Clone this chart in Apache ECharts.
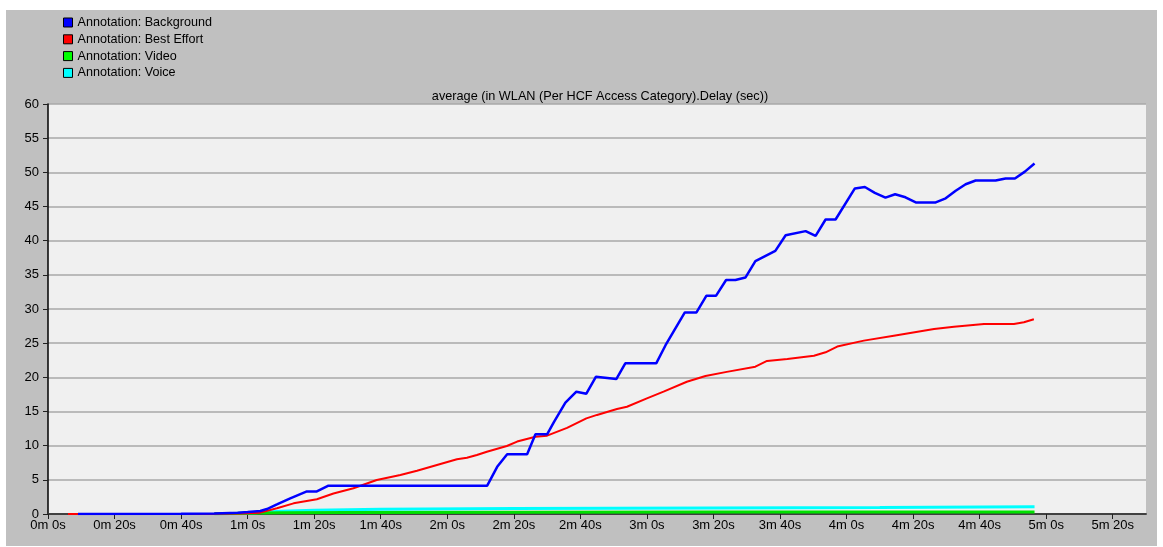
<!DOCTYPE html>
<html>
<head>
<meta charset="utf-8">
<script src="https://cdn.jsdelivr.net/npm/echarts@6/dist/echarts.min.js"></script>
<style>
  html, body { margin: 0; padding: 0; background: #fff; }
  #chart { width: 1163px; height: 547px; }
</style>
</head>
<body>
<div id="chart"></div>
<script>
// time in seconds, value in seconds of delay
const bgTime = [9, 40, 50, 57, 60, 63.8, 65.8, 68.8, 72.8, 77.8, 80.8, 84.3, 132, 135, 138, 144, 146.5, 150, 152, 155.5,
  158.8, 161.8, 164.7, 170.8, 173.5, 182.8, 185.6, 191.4, 194.9, 197.9, 200.8, 203.8, 206.6, 209.6, 212.6,
  218.6, 221.7, 227.7, 230.7, 233.7, 236.7, 242.5, 245.5, 248.5, 251.7, 254.6, 257.7, 260.8, 266.8, 269.8,
  272.8, 275.8, 278.8, 284.8, 287.8, 290.6, 293.6, 296.5]
const bgValue = [0, 0.02, 0.08, 0.2, 0.3, 0.44, 0.73, 1.4, 2.3, 3.3, 3.3, 4.15, 4.15, 6.9, 8.75, 8.75, 11.66, 11.66, 13.4, 16.3,
  17.9, 17.6, 20.1, 19.75, 22.05, 22.05, 24.7, 29.5, 29.5, 31.95, 31.95, 34.25, 34.25, 34.6, 37.0,
  38.5, 40.8, 41.4, 40.7, 43.1, 43.1, 47.65, 47.85, 47.0, 46.3, 46.8, 46.35, 45.6, 45.6, 46.2,
  47.3, 48.25, 48.8, 48.8, 49.1, 49.1, 50.1, 51.3]

const beTime = [6, 30, 50, 58, 63.8, 68.8, 73.8, 80.8, 85.8, 91.8, 98.8, 105.9, 110.9, 116.9, 122.9, 125.9, 128.9, 131.9,
  137.9, 141, 146.5, 150, 156, 161.8, 165, 171, 174, 180, 185, 192, 197.6, 204, 212.6, 216.1, 222.2,
  230.2, 233.7, 237.2, 245.2, 254.2, 266.3, 272.3, 281.3, 290.3, 293.3, 296.3]
const beValue = [0, 0, 0.02, 0.08, 0.2, 0.83, 1.56, 2.15, 3.0, 3.76, 4.97, 5.7, 6.34, 7.17, 8.0, 8.24, 8.63, 9.12,
  9.95, 10.6, 11.3, 11.46, 12.6, 14.0, 14.5, 15.37, 15.7, 16.93, 17.9, 19.36, 20.2, 20.8, 21.56, 22.4, 22.7,
  23.17, 23.66, 24.5, 25.37, 26.1, 27.07, 27.4, 27.8, 27.8, 28.05, 28.5]

const videoTime = [50, 60, 70, 90, 140, 200, 296.5]
const videoValue = [0.02, 0.1, 0.18, 0.22, 0.25, 0.28, 0.3]

const voiceTime = [55, 62, 70, 80, 100, 140, 200, 250, 296.5]
const voiceValue = [0.05, 0.2, 0.4, 0.55, 0.7, 0.8, 0.88, 0.95, 1.05]

const xTicks = [0, 20, 40, 60, 80, 100, 120, 140, 160, 180, 200, 220, 240, 260, 280, 300, 320]
const legendNames = ['Annotation: Background', 'Annotation: Best Effort', 'Annotation: Video', 'Annotation: Voice']

const zip = (t, v) => t.map((x, i) => [x, v[i]])
const fmtTime = s => Math.floor(s / 60) + 'm ' + (s % 60) + 's'

const chart = echarts.init(document.getElementById('chart'))
const font = 'Liberation Sans, Arial, sans-serif'

chart.setOption({
  animation: false,
  backgroundColor: '#ffffff',
  graphic: [{
    type: 'rect',
    z: -10,
    shape: { x: 6, y: 10, width: 1151, height: 536 },
    style: { fill: '#c0c0c0' }
  }],
  title: {
    text: 'average (in WLAN (Per HCF Access Category).Delay (sec))',
    left: 595,
    top: 85,
    textAlign: 'center',
    textStyle: { fontFamily: font, fontSize: 12.7, fontWeight: 'normal', color: '#000' }
  },
  legend: {
    data: legendNames,
    orient: 'vertical',
    left: 58,
    top: 11,
    padding: [5, 5, 5, 5],
    icon: 'rect',
    itemWidth: 9,
    itemHeight: 9,
    itemGap: 3.8,
    itemStyle: { borderColor: '#000', borderWidth: 1 },
    textStyle: { fontFamily: font, fontSize: 12.6, color: '#000' }
  },
  grid: {
    left: 48,
    top: 104,
    right: 17,
    bottom: 33,
    show: true,
    backgroundColor: '#f0f0f0',
    borderWidth: 0
  },
  xAxis: [{
    type: 'value',
    min: 0,
    max: 330,
    interval: 20,
    axisLine: { onZero: false, lineStyle: { color: '#202020', width: 1.5 } },
    axisTick: { customValues: xTicks, length: 5, lineStyle: { color: '#202020' } },
    axisLabel: {
      customValues: xTicks,
      formatter: fmtTime,
      fontFamily: font,
      fontSize: 13,
      color: '#000',
      margin: 5
    },
    splitLine: { show: false }
  }, {
    type: 'value',
    position: 'top',
    min: 0,
    max: 330,
    axisLine: { show: true, lineStyle: { color: '#404040', width: 1.5 } },
    axisTick: { show: false },
    axisLabel: { show: false },
    splitLine: { show: false }
  }],
  yAxis: {
    type: 'value',
    min: 0,
    max: 60,
    interval: 5,
    axisLine: { show: true, lineStyle: { color: '#000', width: 1.5 } },
    axisTick: { show: true, length: 5, lineStyle: { color: '#202020' } },
    axisLabel: { fontFamily: font, fontSize: 13, color: '#000', margin: 9 },
    splitLine: { lineStyle: { color: '#a8a8a8', width: 1.5 } }
  },
  series: [{
    name: 'Annotation: Voice',
    type: 'line',
    data: zip(voiceTime, voiceValue),
    showSymbol: false,
    itemStyle: { color: '#00ffff' },
    lineStyle: { color: '#00ffff', width: 3 }
  }, {
    name: 'Annotation: Video',
    type: 'line',
    data: zip(videoTime, videoValue),
    showSymbol: false,
    itemStyle: { color: '#00ff00' },
    lineStyle: { color: '#00e000', width: 3 }
  }, {
    name: 'Annotation: Best Effort',
    type: 'line',
    data: zip(beTime, beValue),
    showSymbol: false,
    itemStyle: { color: '#ff0000' },
    lineStyle: { color: '#ff0000', width: 2 }
  }, {
    name: 'Annotation: Background',
    type: 'line',
    data: zip(bgTime, bgValue),
    showSymbol: false,
    itemStyle: { color: '#0000ff' },
    lineStyle: { color: '#0000ff', width: 2.5 }
  }]
})
</script>
</body>
</html>
